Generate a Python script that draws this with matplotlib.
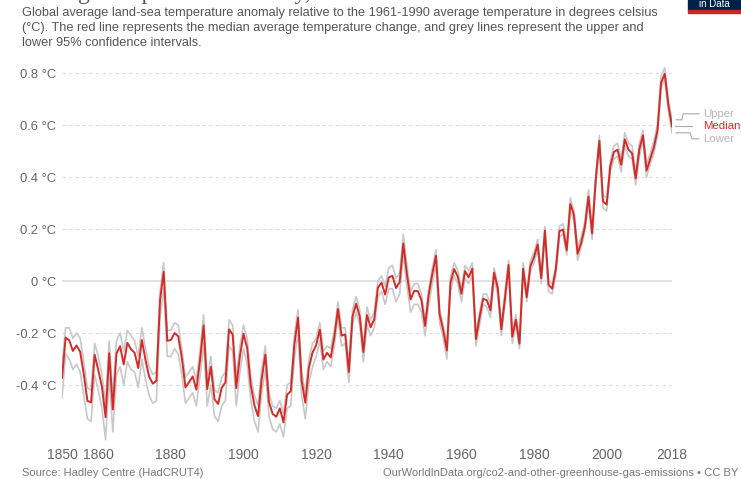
import matplotlib
matplotlib.use("Agg")
import matplotlib.pyplot as plt
from matplotlib.patches import Rectangle
from matplotlib.lines import Line2D

plt.rcParams["font.family"] = ["Liberation Sans", "DejaVu Sans"]

years = list(range(1850, 2019))

# HadCRUT4 annual anomaly (median), degrees C vs 1961-1990
median = [
    -0.373, -0.218, -0.228, -0.269, -0.248, -0.272, -0.358, -0.461, -0.467, -0.284,
    -0.343, -0.407, -0.524, -0.278, -0.494, -0.279, -0.251, -0.321, -0.238, -0.262,
    -0.276, -0.335, -0.227, -0.304, -0.368, -0.395, -0.384, -0.075, 0.035, -0.230,
    -0.227, -0.200, -0.213, -0.296, -0.409, -0.389, -0.367, -0.418, -0.307, -0.171,
    -0.416, -0.330, -0.455, -0.473, -0.410, -0.390, -0.186, -0.206, -0.412, -0.289,
    -0.203, -0.259, -0.402, -0.479, -0.520, -0.377, -0.283, -0.465, -0.511, -0.522,
    -0.490, -0.544, -0.437, -0.424, -0.244, -0.141, -0.383, -0.468, -0.333, -0.275,
    -0.247, -0.187, -0.302, -0.276, -0.294, -0.215, -0.108, -0.210, -0.206, -0.350,
    -0.137, -0.087, -0.137, -0.273, -0.131, -0.178, -0.147, -0.026, -0.006, -0.052,
    0.014, 0.020, -0.027, -0.004, 0.144, 0.025, -0.071, -0.038, -0.039, -0.074,
    -0.173, -0.052, 0.028, 0.097, -0.129, -0.190, -0.267, -0.007, 0.046, 0.017,
    -0.049, 0.038, 0.014, 0.048, -0.223, -0.140, -0.068, -0.074, -0.113, 0.032,
    -0.027, -0.186, -0.065, 0.062, -0.214, -0.149, -0.241, 0.047, -0.062, 0.057,
    0.092, 0.140, 0.011, 0.194, -0.014, -0.030, 0.045, 0.192, 0.198, 0.118,
    0.296, 0.254, 0.105, 0.148, 0.208, 0.325, 0.183, 0.390, 0.539, 0.306,
    0.294, 0.441, 0.496, 0.505, 0.447, 0.545, 0.506, 0.491, 0.395, 0.506,
    0.560, 0.425, 0.470, 0.514, 0.579, 0.763, 0.797, 0.677, 0.595,
]

# upper 95% confidence bound
upper = [
    -0.32, -0.18, -0.18, -0.22, -0.20, -0.22, -0.31, -0.41, -0.42, -0.24,
    -0.29, -0.36, -0.47, -0.23, -0.44, -0.23, -0.20, -0.27, -0.19, -0.21,
    -0.23, -0.29, -0.18, -0.26, -0.33, -0.36, -0.35, -0.04, 0.07, -0.19,
    -0.19, -0.16, -0.17, -0.26, -0.37, -0.35, -0.33, -0.38, -0.27, -0.13,
    -0.38, -0.29, -0.42, -0.43, -0.37, -0.35, -0.15, -0.17, -0.37, -0.25,
    -0.17, -0.22, -0.37, -0.44, -0.48, -0.34, -0.25, -0.43, -0.48, -0.49,
    -0.46, -0.51, -0.40, -0.39, -0.21, -0.11, -0.35, -0.43, -0.30, -0.24,
    -0.22, -0.16, -0.27, -0.25, -0.26, -0.19, -0.08, -0.18, -0.18, -0.32,
    -0.11, -0.06, -0.11, -0.25, -0.10, -0.15, -0.12, 0.00, 0.02, -0.02,
    0.05, 0.06, 0.01, 0.03, 0.18, 0.06, -0.04, -0.01, -0.01, -0.05,
    -0.15, -0.03, 0.05, 0.12, -0.11, -0.17, -0.24, 0.02, 0.07, 0.04,
    -0.03, 0.06, 0.04, 0.07, -0.20, -0.12, -0.05, -0.05, -0.09, 0.05,
    -0.01, -0.17, -0.04, 0.08, -0.19, -0.13, -0.22, 0.07, -0.04, 0.08,
    0.11, 0.16, 0.03, 0.21, 0.00, -0.01, 0.06, 0.21, 0.22, 0.14,
    0.32, 0.27, 0.13, 0.17, 0.23, 0.35, 0.20, 0.41, 0.56, 0.33,
    0.32, 0.46, 0.52, 0.53, 0.47, 0.57, 0.53, 0.52, 0.42, 0.53,
    0.58, 0.45, 0.49, 0.54, 0.60, 0.79, 0.82, 0.70, 0.62,
]

# lower 95% confidence bound
lower = [
    -0.45, -0.28, -0.30, -0.34, -0.32, -0.35, -0.44, -0.53, -0.54, -0.36,
    -0.42, -0.49, -0.61, -0.37, -0.58, -0.36, -0.33, -0.40, -0.31, -0.34,
    -0.35, -0.41, -0.30, -0.38, -0.44, -0.47, -0.46, -0.14, -0.03, -0.29,
    -0.29, -0.26, -0.28, -0.36, -0.47, -0.45, -0.43, -0.48, -0.37, -0.24,
    -0.48, -0.40, -0.52, -0.54, -0.48, -0.46, -0.25, -0.27, -0.48, -0.35,
    -0.26, -0.32, -0.46, -0.54, -0.58, -0.43, -0.34, -0.52, -0.57, -0.58,
    -0.55, -0.60, -0.49, -0.48, -0.30, -0.20, -0.44, -0.53, -0.39, -0.33,
    -0.29, -0.23, -0.34, -0.31, -0.33, -0.25, -0.14, -0.25, -0.24, -0.39,
    -0.17, -0.12, -0.17, -0.31, -0.17, -0.21, -0.18, -0.06, -0.04, -0.09,
    -0.03, -0.03, -0.08, -0.05, 0.10, -0.02, -0.12, -0.09, -0.09, -0.12,
    -0.21, -0.09, -0.01, 0.06, -0.16, -0.22, -0.30, -0.04, 0.02, -0.01,
    -0.08, 0.01, -0.01, 0.02, -0.25, -0.17, -0.09, -0.10, -0.14, 0.01,
    -0.05, -0.21, -0.09, 0.04, -0.24, -0.17, -0.26, 0.03, -0.08, 0.04,
    0.07, 0.12, -0.01, 0.17, -0.04, -0.05, 0.02, 0.17, 0.18, 0.10,
    0.27, 0.23, 0.08, 0.13, 0.19, 0.30, 0.16, 0.37, 0.52, 0.28,
    0.27, 0.42, 0.47, 0.48, 0.42, 0.52, 0.48, 0.47, 0.37, 0.48,
    0.54, 0.40, 0.45, 0.49, 0.56, 0.74, 0.78, 0.65, 0.57,
]

x_ticks = [1850, 1860, 1880, 1900, 1920, 1940, 1960, 1980, 2000, 2018]
y_ticks = [-0.4, -0.2, 0, 0.2, 0.4, 0.6, 0.8]
y_labels = ["-0.4 °C", "-0.2 °C", "0 °C", "0.2 °C", "0.4 °C", "0.6 °C", "0.8 °C"]

RED = "#d42b27"
GREY = "#c8c8c8"

W, H = 741, 479
fig = plt.figure(figsize=(W / 100, H / 100), dpi=100)
ax = fig.add_axes([62 / W, 1 - 442.2 / H, 610 / W, 379.6 / H])

ax.plot(years, upper, color=GREY, lw=1.2, zorder=2)
ax.plot(years, lower, color=GREY, lw=1.2, zorder=2)
ax.plot(years, median, color=RED, lw=1.4, zorder=3)

ax.set_xlim(1850, 2018)
ax.set_ylim(-0.62, 0.84)
ax.set_xticks(x_ticks)
ax.set_yticks(y_ticks)
ax.set_yticklabels(y_labels)
ax.tick_params(length=0, labelsize=9.4, labelcolor="#666666")
ax.tick_params(axis="x", pad=4, labelsize=10)
ax.tick_params(axis="y", pad=4)
for s in ax.spines.values():
    s.set_visible(False)

for v in y_ticks:
    if v == 0:
        ax.axhline(0, color="#dddddd", lw=1.2, zorder=1)
    else:
        ax.axhline(v, color="#dddddd", lw=0.8, ls=(0, (3, 3)), zorder=1)

# end labels with stepped connectors (drawn in pixel space from the line ends)
def to_px(x, y):
    return ax.transData.transform((x, y))

xe, yu = to_px(years[-1], upper[-1])
_, ym = to_px(years[-1], median[-1])
_, yl = to_px(years[-1], lower[-1])
lab_u, lab_m, lab_l = yu + 6, ym, yl - 6
conn = [
    ([xe + 4, xe + 10, xe + 11, xe + 27], [yu, yu, lab_u, lab_u]),
    ([xe + 3, xe + 20], [ym, ym]),
    ([xe + 4, xe + 18, xe + 20, xe + 27], [yl, yl, lab_l, lab_l]),
]
for xs, ys in conn:
    fig.add_artist(Line2D(xs, ys, transform=None, color="#aaaaaa", lw=0.8))
for name, yy, col in [("Upper", lab_u, "#b5b5b5"), ("Median", lab_m, RED),
                      ("Lower", lab_l, "#b5b5b5")]:
    fig.text((xe + 31) / W, yy / H, name, fontsize=8.2, color=col,
             ha="left", va="center")

# title (cropped at the top of the picture) and subtitle
fig.text(22 / W, 1 + 1 / H, "Average temperature anomaly, Global",
         fontsize=17, color="#555555", family="Liberation Serif", va="baseline")
subtitle = ("Global average land-sea temperature anomaly relative to the 1961-1990 average temperature in degrees celsius\n"
            "(°C). The red line represents the median average temperature change, and grey lines represent the upper and\n"
            "lower 95% confidence intervals.")
fig.text(22 / W, 1 - 7 / H, subtitle, fontsize=9.2, color="#555555",
         va="top", ha="left", linespacing=1.31)

# logo
fig.add_artist(Rectangle((688 / W, 1 - 10 / H), 53 / W, 10 / H,
                         transform=fig.transFigure, color="#002147", zorder=5))
fig.add_artist(Rectangle((688 / W, 1 - 13 / H), 53 / W, 3 / H,
                         transform=fig.transFigure, color="#ce261e", zorder=5))
fig.text(714 / W, 1 - 4 / H, "in Data", fontsize=7, color="white",
         ha="center", va="center", zorder=6)

fig.text(22 / W, 1 - 473 / H, "Source: Hadley Centre (HadCRUT4)",
         fontsize=8, color="#777777", va="center")
fig.text(738 / W, 1 - 473 / H,
         "OurWorldInData.org/co2-and-other-greenhouse-gas-emissions • CC BY",
         fontsize=8, color="#777777", va="center", ha="right")

fig.savefig("out.png", dpi=100)
